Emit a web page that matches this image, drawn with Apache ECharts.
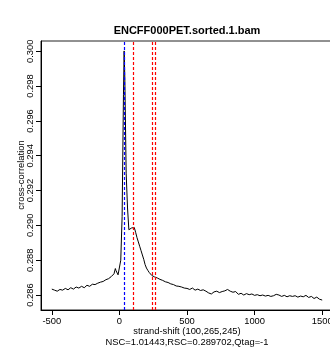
<!DOCTYPE html>
<html>
<head>
<meta charset="utf-8">
<script src="https://cdn.jsdelivr.net/npm/echarts@6/dist/echarts.min.js"></script>
<style>
html, body { margin: 0; padding: 0; background: #fff; }
#chart { width: 330px; height: 349px; }
</style>
</head>
<body>
<div id="chart"></div>
<script>
// strand shift (bp) and cross-correlation
var shifts = [
  -500, -490, -480, -460, -440, -420, -400, -380, -360, -340,
  -320, -300, -280, -260, -240, -220, -200, -180, -160, -140,
  -120, -100, -80, -60, -50, -40, -30, -25, -20, -10,
  0, 10, 20, 30, 35, 40, 50, 60, 70, 80,
  90, 100, 110, 120, 130, 140, 150, 160, 170, 180,
  190, 200, 210, 220, 230, 240, 250, 260, 280, 300,
  320, 340, 360, 380, 400, 420, 440, 460, 480, 500,
  520, 540, 560, 580, 600, 620, 640, 660, 680, 700,
  720, 740, 760, 780, 800, 820, 840, 860, 880, 900,
  920, 940, 960, 980, 1000, 1020, 1040, 1060, 1080, 1100,
  1120, 1140, 1160, 1170, 1180, 1200, 1220, 1240, 1260, 1280,
  1300, 1320, 1340, 1360, 1380, 1400, 1420, 1440, 1460, 1480,
  1500
];
var crossCor = [
  0.28634, 0.28624, 0.28628, 0.28622, 0.28632, 0.28628, 0.28638, 0.28630, 0.28642, 0.28634,
  0.28646, 0.28640, 0.28650, 0.28642, 0.28656, 0.28650, 0.28662, 0.28660, 0.28668, 0.28674,
  0.28678, 0.28688, 0.28694, 0.28706, 0.28700, 0.28722, 0.28752, 0.28740, 0.28730, 0.28716,
  0.28722, 0.28800, 0.29050, 0.29750, 0.30002, 0.29850, 0.29300, 0.29100, 0.28975, 0.28972,
  0.28985, 0.28985, 0.28988, 0.28960, 0.28930, 0.28905, 0.28880, 0.28855, 0.28830, 0.28805,
  0.28775, 0.28755, 0.28742, 0.28730, 0.28722, 0.28712, 0.28706, 0.28704, 0.28698, 0.28690,
  0.28684, 0.28676, 0.28672, 0.28664, 0.28660, 0.28652, 0.28650, 0.28646, 0.28640, 0.28638,
  0.28632, 0.28640, 0.28628, 0.28634, 0.28626, 0.28630, 0.28622, 0.28612, 0.28606, 0.28618,
  0.28622, 0.28614, 0.28620, 0.28624, 0.28632, 0.28622, 0.28616, 0.28620, 0.28604, 0.28610,
  0.28600, 0.28608, 0.28602, 0.28606, 0.28598, 0.28602, 0.28596, 0.28600, 0.28594, 0.28598,
  0.28592, 0.28596, 0.28604, 0.28614, 0.28600, 0.28592, 0.28598, 0.28590, 0.28596, 0.28592,
  0.28596, 0.28588, 0.28594, 0.28590, 0.28598, 0.28586, 0.28592, 0.28580, 0.28588, 0.28576,
  0.28571
];
// vertical markers
var readLength = [36];
var peakShifts = [100, 245, 265];
// tick labels
var xTicks = [-500, 0, 500, 1000, 1500];
var yTicks = [0.286, 0.288, 0.290, 0.292, 0.294, 0.296, 0.298, 0.300];

var chart = echarts.init(document.getElementById('chart'));

var points = shifts.map(function (s, i) { return [s, crossCor[i]]; });
var vlines = [];
readLength.forEach(function (v) {
  vlines.push({ xAxis: v, lineStyle: { color: '#0000ff' } });
});
peakShifts.forEach(function (v) {
  vlines.push({ xAxis: v, lineStyle: { color: '#ff0000' } });
});

var FONT = '"Liberation Sans", Arial, Helvetica, sans-serif';

chart.setOption({
  animation: false,
  backgroundColor: '#ffffff',
  grid: {
    left: 41, top: 41, right: -3, bottom: 39,
    outerBoundsMode: 'none',
    containLabel: false,
    show: true, borderColor: '#222', borderWidth: 1
  },
  xAxis: {
    type: 'value',
    min: -580,
    max: 1580,
    splitLine: { show: false },
    axisLine: { show: true, onZero: false, lineStyle: { color: '#000', width: 1 } },
    axisTick: { show: true, length: 5, customValues: xTicks, lineStyle: { color: '#000' } },
    axisLabel: {
      customValues: xTicks,
      margin: 7,
      color: '#000',
      fontSize: 9.4,
      fontFamily: FONT,
      formatter: function (v) { return String(v); }
    }
  },
  yAxis: {
    type: 'value',
    min: 0.28514,
    max: 0.30059,
    splitLine: { show: false },
    axisLine: { show: true, onZero: false, lineStyle: { color: '#000', width: 1 } },
    axisTick: { show: true, length: 5, customValues: yTicks, lineStyle: { color: '#000' } },
    axisLabel: {
      customValues: yTicks,
      rotate: 90,
      margin: 6,
      color: '#000',
      fontSize: 9.4,
      fontFamily: FONT,
      formatter: function (v) { return v.toFixed(3); }
    }
  },
  series: [{
    type: 'line',
    data: points,
    showSymbol: false,
    lineStyle: { color: '#000', width: 1 },
    markLine: {
      silent: true,
      symbol: ['none', 'none'],
      label: { show: false },
      lineStyle: { type: [3, 2], width: 1.2 },
      data: vlines
    }
  }],
  graphic: [
    {
      type: 'text', x: 187, y: 31,
      style: {
        text: 'ENCFF000PET.sorted.1.bam', align: 'center', verticalAlign: 'middle',
        font: 'bold 11px ' + FONT, fill: '#000'
      }
    },
    {
      type: 'text', x: 187, y: 331,
      style: {
        text: 'strand-shift (100,265,245)', align: 'center', verticalAlign: 'middle',
        font: '9.4px ' + FONT, fill: '#000'
      }
    },
    {
      type: 'text', x: 187, y: 342,
      style: {
        text: 'NSC=1.01443,RSC=0.289702,Qtag=-1', align: 'center', verticalAlign: 'middle',
        font: '9.4px ' + FONT, fill: '#000'
      }
    },
    {
      type: 'text', x: 21, y: 175, rotation: Math.PI / 2,
      style: {
        text: 'cross-correlation', align: 'center', verticalAlign: 'middle',
        font: '9.4px ' + FONT, fill: '#000'
      }
    }
  ]
});
</script>
</body>
</html>
